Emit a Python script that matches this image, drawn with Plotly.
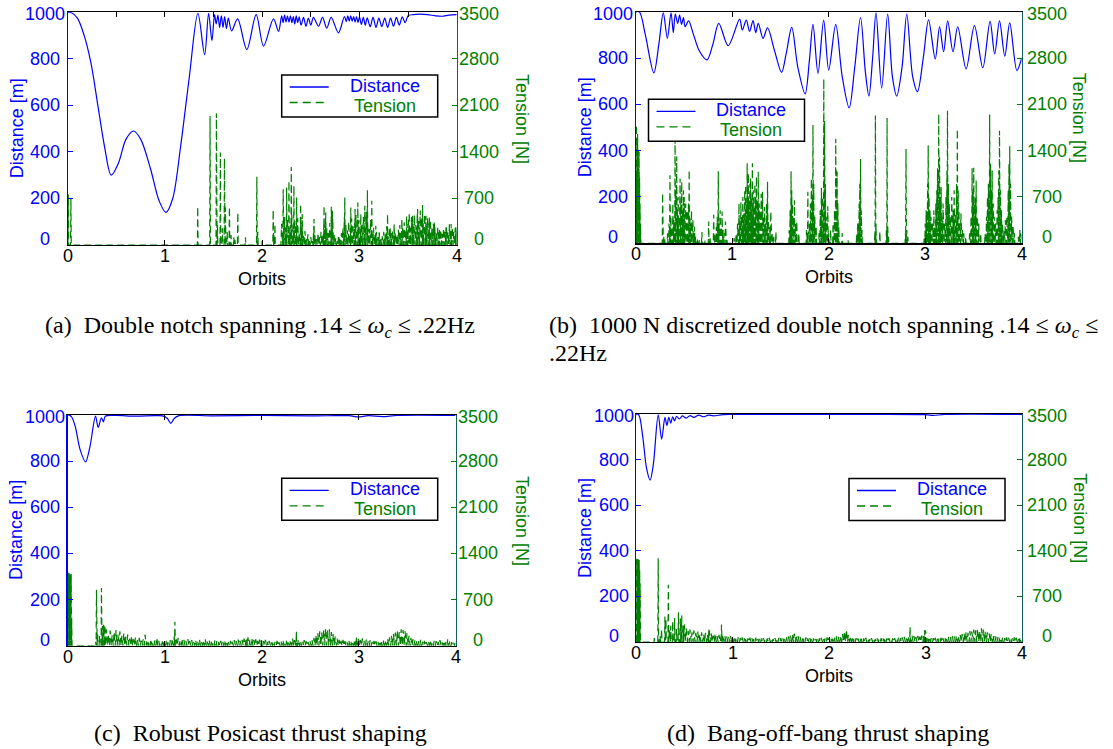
import plotly.graph_objects as go

# ---------------- data ----------------
ORBIT_TICKS = [0, 1, 2, 3, 4]
DIST_TICKS = [0, 200, 400, 600, 800, 1000]
TENSION_TICKS = [0, 700, 1400, 2100, 2800, 3500]
SERIES_NAMES = ["Distance", "Tension"]

# (a) Double notch
a_distance = [(0.00, 1000), (0.04, 998), (0.10, 975), (0.17, 900), (0.24, 780), (0.31, 600),
              (0.38, 420), (0.447, 300), (0.52, 350), (0.60, 455), (0.677, 490), (0.75, 455),
              (0.85, 330), (0.94, 190), (1.01, 140), (1.08, 200), (1.16, 420), (1.25, 720),
              (1.339, 995), (1.408, 818), (1.449, 995), (1.483, 878), (1.51, 990), (1.527, 950),
              (1.545, 988), (1.562, 935), (1.58, 985), (1.597, 935), (1.614, 982), (1.632, 930),
              (1.652, 975), (1.685, 920), (1.747, 972), (1.842, 840), (1.938, 990), (2.014, 855),
              (2.116, 972), (2.168, 918), (2.20, 985), (2.215, 955), (2.23, 988), (2.245, 958),
              (2.26, 985), (2.275, 958), (2.29, 985), (2.305, 955), (2.32, 982), (2.335, 950),
              (2.35, 985), (2.365, 955), (2.38, 980), (2.40, 945), (2.425, 978), (2.45, 940),
              (2.475, 975), (2.50, 945), (2.527, 978), (2.579, 940), (2.62, 978), (2.664, 932),
              (2.709, 978), (2.784, 912), (2.846, 982), (2.865, 960), (2.88, 985), (2.895, 962),
              (2.91, 985), (2.925, 962), (2.94, 982), (2.955, 958), (2.97, 982), (2.985, 955),
              (3.00, 980), (3.02, 948), (3.04, 978), (3.06, 945), (3.08, 976), (3.11, 938),
              (3.14, 978), (3.17, 935), (3.20, 975), (3.23, 938), (3.26, 975), (3.29, 935),
              (3.32, 975), (3.35, 940), (3.38, 978), (3.41, 945), (3.44, 980), (3.47, 955),
              (3.50, 985), (3.55, 990), (3.62, 992), (3.70, 990), (3.78, 985), (3.85, 983),
              (3.92, 988), (4.00, 990)]
a_spikes = [(0.006, 760), (0.033, 700), (1.337, 575), (1.464, 1940), (1.529, 1980), (1.540, 300),
            (1.570, 1390), (1.590, 250), (1.612, 1305), (1.622, 565), (1.640, 200), (1.663, 575),
            (1.680, 150), (1.708, 115), (1.720, 80), (1.749, 490), (1.828, 115), (1.945, 1025),
            (1.955, 200), (2.000, 65), (2.113, 530), (2.120, 150), (2.131, 315), (2.216, 840),
            (2.251, 865), (2.275, 965), (2.299, 1175), (2.326, 890), (2.354, 715), (2.395, 615),
            (2.412, 465), (2.533, 390), (2.636, 590), (2.653, 490), (2.711, 575), (2.722, 515),
            (2.790, 115), (2.849, 715), (2.911, 565), (2.955, 540), (2.983, 640), (3.014, 465),
            (3.055, 590), (3.082, 825), (3.127, 665), (3.168, 290), (3.203, 190), (3.289, 465),
            (3.316, 265), (3.357, 315), (3.436, 390), (3.485, 440), (3.512, 490), (3.546, 465),
            (3.598, 540), (3.649, 600), (3.684, 440), (3.718, 415), (3.770, 340), (3.821, 240),
            (3.890, 265), (3.942, 315), (3.993, 290)]
a_grass_x0 = 2.20
a_grass_dx = 0.015
a_grass_h = [320, 180, 420, 260, 380, 150, 300, 450, 220, 360,
             280, 400, 190, 330, 250, 140, 210, 90, 160, 70,
             120, 60, 280, 150, 90, 180, 120, 200, 150, 380,
             300, 250, 180, 330, 220, 400, 150, 100, 60, 140,
             90, 180, 260, 420, 300, 220, 350, 180, 400, 280,
             330, 450, 250, 380, 200, 310, 420, 260, 500, 300,
             240, 380, 180, 260, 150, 200, 120, 170, 90, 130,
             200, 160, 280, 130, 240, 180, 220, 120, 190, 150,
             230, 300, 180, 260, 340, 220, 310, 380, 260, 420,
             350, 450, 300, 480, 380, 520, 420, 350, 460, 300,
             400, 330, 380, 250, 320, 280, 200, 260, 180, 230,
             170, 250, 200, 280, 190, 310, 230, 270, 200, 260,
             220]

# (b) 1000 N discretized double notch
b_distance = [(0.000, 295), (0.004, 1000), (0.04, 998), (0.10, 900), (0.188, 736), (0.24, 860),
              (0.286, 995), (0.328, 885), (0.366, 995), (0.39, 910), (0.41, 990), (0.435, 950),
              (0.455, 985), (0.475, 945), (0.495, 975), (0.512, 935), (0.547, 960), (0.60, 900),
              (0.66, 830), (0.739, 792), (0.80, 860), (0.861, 950), (0.958, 853), (1.077, 968),
              (1.105, 921), (1.146, 964), (1.18, 915), (1.216, 962), (1.244, 910), (1.27, 950),
              (1.32, 885), (1.366, 930), (1.44, 830), (1.512, 738), (1.56, 820), (1.617, 932),
              (1.68, 760), (1.756, 645), (1.80, 790), (1.837, 945), (1.889, 734), (1.948, 964),
              (2.00, 748), (2.073, 945), (2.14, 720), (2.212, 585), (2.27, 760), (2.33, 975),
              (2.38, 740), (2.417, 636), (2.455, 800), (2.49, 995), (2.549, 670), (2.611, 990),
              (2.66, 720), (2.705, 636), (2.76, 760), (2.809, 990), (2.87, 720), (2.92, 655),
              (2.98, 800), (3.035, 965), (3.104, 796), (3.149, 935), (3.191, 827), (3.233, 960),
              (3.288, 827), (3.337, 935), (3.424, 753), (3.51, 940), (3.597, 758), (3.672, 958),
              (3.72, 818), (3.77, 960), (3.825, 808), (3.876, 952), (3.95, 746), (4.00, 800)]
b_spikes = [(0.004, 1000), (0.008, 1790), (0.012, 1500), (0.016, 1200), (0.020, 1650), (0.025, 1400),
            (0.030, 1410), (0.035, 1380), (0.040, 1000), (0.045, 600), (0.050, 300),
            (0.279, 760), (0.290, 100), (0.300, 60), (0.330, 150), (0.345, 300), (0.355, 1030),
            (0.365, 400), (0.375, 250), (0.385, 600), (0.395, 350), (0.408, 1660), (0.415, 800),
            (0.425, 1310), (0.432, 500), (0.440, 700), (0.448, 400), (0.455, 850), (0.460, 980),
            (0.468, 600), (0.477, 930), (0.485, 500), (0.495, 800), (0.503, 700), (0.510, 450),
            (0.518, 600), (0.525, 350), (0.533, 500), (0.540, 300), (0.548, 600), (0.554, 1110),
            (0.562, 400), (0.570, 300), (0.578, 500), (0.585, 250), (0.593, 350), (0.600, 150),
            (0.610, 250), (0.620, 100), (0.640, 80), (0.660, 50),
            (0.686, 170), (0.720, 50), (0.756, 330), (0.770, 100), (0.808, 430), (0.820, 150),
            (0.835, 250), (0.845, 400), (0.856, 1090), (0.865, 300), (0.875, 500), (0.885, 250),
            (0.895, 480), (0.905, 200), (0.915, 150), (0.930, 330), (0.945, 80),
            (1.020, 80), (1.040, 150), (1.055, 300), (1.070, 600), (1.080, 350), (1.090, 620),
            (1.100, 400), (1.110, 700), (1.120, 450), (1.130, 800), (1.139, 880), (1.148, 600),
            (1.155, 1210), (1.163, 700), (1.167, 1060), (1.175, 650), (1.183, 900), (1.190, 980),
            (1.200, 700), (1.209, 1210), (1.218, 800), (1.225, 600), (1.235, 900), (1.243, 700),
            (1.251, 1010), (1.260, 650), (1.270, 1080), (1.280, 600), (1.290, 500), (1.300, 750),
            (1.314, 780), (1.325, 400), (1.335, 550), (1.345, 300), (1.355, 600), (1.366, 930),
            (1.375, 350), (1.390, 250), (1.400, 480), (1.415, 150), (1.430, 100), (1.453, 170),
            (1.590, 200), (1.600, 500), (1.610, 1090), (1.617, 800), (1.625, 600), (1.635, 400),
            (1.645, 650), (1.655, 300), (1.669, 330), (1.690, 150),
            (1.770, 200), (1.784, 780), (1.800, 300), (1.810, 600), (1.820, 980), (1.830, 700),
            (1.837, 1790), (1.845, 900), (1.855, 400), (1.870, 250), (1.900, 150), (1.912, 500),
            (1.924, 840), (1.935, 700), (1.949, 2485), (1.958, 1850), (1.965, 900), (1.975, 400),
            (1.990, 560), (2.000, 150), (2.020, 200), (2.045, 300), (2.060, 500), (2.073, 1580),
            (2.080, 1100), (2.087, 1080), (2.095, 600), (2.105, 250), (2.140, 150), (2.200, 50),
            (2.290, 150), (2.300, 300), (2.306, 280), (2.315, 600), (2.322, 900), (2.330, 1275),
            (2.338, 500), (2.345, 200),
            (2.478, 150), (2.484, 1930), (2.490, 300), (2.530, 180),
            (2.598, 200), (2.605, 1895), (2.612, 250), (2.620, 100),
            (2.795, 150), (2.801, 1425), (2.810, 200), (2.820, 100),
            (2.990, 100), (3.000, 300), (3.010, 500), (3.017, 480), (3.025, 900), (3.031, 1480),
            (3.040, 700), (3.050, 500), (3.060, 400), (3.075, 300), (3.090, 500), (3.100, 250),
            (3.110, 600), (3.120, 800), (3.128, 1135), (3.140, 1955), (3.149, 1300), (3.157, 700),
            (3.165, 850), (3.175, 400), (3.185, 600), (3.200, 300), (3.215, 700), (3.225, 1100),
            (3.231, 2005), (3.240, 900), (3.250, 600), (3.260, 400), (3.275, 700), (3.290, 500),
            (3.300, 800), (3.310, 450), (3.325, 900), (3.333, 1725), (3.342, 800), (3.350, 500),
            (3.360, 300), (3.370, 450), (3.385, 200), (3.400, 150), (3.420, 100),
            (3.460, 150), (3.475, 400), (3.486, 1136), (3.495, 800), (3.503, 1140), (3.512, 600),
            (3.520, 700), (3.528, 950), (3.540, 400), (3.555, 300), (3.575, 150),
            (3.620, 150), (3.635, 400), (3.645, 700), (3.655, 900), (3.668, 1945), (3.677, 1200),
            (3.685, 800), (3.694, 1100), (3.705, 600), (3.715, 400), (3.730, 300), (3.745, 500),
            (3.755, 700), (3.762, 1100), (3.770, 1700), (3.780, 800), (3.790, 500), (3.800, 300),
            (3.815, 200), (3.830, 350), (3.845, 400), (3.860, 800), (3.868, 1200), (3.876, 1465),
            (3.885, 900), (3.895, 400), (3.910, 250), (3.925, 150),
            (3.965, 100), (3.980, 200), (3.990, 150)]

# (c) Robust Posicast
c_distance = [(0.000, 60), (0.004, 1000), (0.04, 993), (0.08, 950), (0.13, 850), (0.186, 797),
              (0.23, 860), (0.289, 995), (0.316, 946), (0.35, 988), (0.37, 970), (0.39, 995),
              (0.50, 998), (0.70, 995), (0.90, 997), (0.98, 996), (1.03, 985), (1.065, 964),
              (1.10, 985), (1.15, 997), (1.50, 996), (2.00, 998), (2.50, 996), (2.90, 997),
              (3.00, 992), (3.10, 997), (3.25, 993), (3.40, 998), (4.00, 998)]
c_spikes = [(0.003, 1100), (0.008, 1110), (0.013, 1050), (0.018, 1100), (0.023, 1080), (0.028, 1110),
            (0.033, 1000), (0.038, 1090), (0.043, 420), (0.290, 60), (0.299, 850), (0.310, 200),
            (0.330, 150), (0.350, 875), (0.360, 300), (0.372, 320), (0.385, 315), (1.107, 366),
            (1.850, 120), (2.360, 224), (2.980, 110)]
c_grass_x0 = 0.40
c_grass_dx = 0.02
c_grass_h = [250, 180, 230, 160, 210, 240, 170, 220, 150, 190,
             140, 170, 110, 150, 100, 130, 90, 120, 80, 100,
             170, 90, 70, 100, 60, 85, 120, 75, 55, 90,
             70, 95, 60, 85, 110, 140, 100, 120, 85, 105,
             90, 75, 100, 70, 85, 60, 90, 75, 95, 65,
             85, 100, 65, 90, 75, 60, 85, 70, 55, 75,
             60, 85, 70, 55, 75, 60, 85, 70, 95, 75,
             90, 110, 85, 130, 95, 115, 90, 100, 75, 95,
             85, 70, 90, 60, 75, 55, 70, 60, 75, 55,
             70, 85, 60, 95, 75, 90, 110, 85, 130, 95,
             75, 60, 85, 70, 55, 75, 90, 120, 160, 190,
             220, 200, 240, 260, 230, 250, 210, 180, 140, 110,
             90, 75, 90, 70, 60, 85, 75, 70, 95, 130,
             105, 85, 115, 75, 95, 70, 85, 60, 75, 70,
             60, 75, 70, 90, 85, 110, 130, 150, 180, 200,
             230, 210, 250, 240, 220, 190, 150, 120, 100, 90,
             80, 70, 90, 60, 75, 55, 70, 85, 60, 75,
             70, 60, 85, 55, 75, 60, 100, 70, 55, 45,
             40]

# (d) Bang-off-bang
d_distance = [(0.000, 100), (0.004, 1000), (0.03, 995), (0.07, 900), (0.11, 760), (0.146, 710),
              (0.18, 780), (0.23, 996), (0.266, 890), (0.30, 985), (0.32, 950), (0.34, 985),
              (0.36, 960), (0.38, 988), (0.40, 970), (0.42, 990), (0.45, 978), (0.48, 992),
              (0.52, 982), (0.56, 993), (0.60, 985), (0.65, 995), (0.70, 988), (0.75, 995),
              (0.80, 992), (0.90, 997), (1.00, 998), (2.00, 998), (3.00, 997), (3.08, 994),
              (3.20, 998), (4.00, 998)]
d_spikes = [(0.003, 1270), (0.008, 1250), (0.013, 1280), (0.018, 1200), (0.023, 1270), (0.028, 1230),
            (0.033, 1260), (0.038, 1100), (0.043, 900), (0.190, 60), (0.230, 1285), (0.250, 100),
            (0.265, 200), (0.300, 390), (0.310, 350), (0.335, 880), (0.345, 200), (0.360, 250),
            (0.380, 320), (0.400, 370), (0.420, 200), (0.440, 456), (0.460, 360), (0.474, 405),
            (0.490, 250), (0.755, 210), (0.886, 267), (2.840, 236), (2.990, 180)]
d_grass_x0 = 0.50
d_grass_dx = 0.02
d_grass_h = [270, 210, 170, 190, 150, 180, 140, 160, 120, 150,
             120, 140, 110, 170, 130, 100, 130, 90, 110, 80,
             110, 95, 85, 75, 90, 70, 80, 65, 75, 60,
             70, 60, 65, 55, 65, 60, 50, 65, 45, 60,
             55, 60, 45, 55, 65, 55, 45, 60, 55, 65,
             60, 55, 65, 70, 85, 100, 120, 130, 110, 90,
             80, 65, 60, 70, 55, 65, 60, 55, 45, 60,
             55, 65, 60, 55, 70, 65, 60, 75, 70, 90,
             85, 100, 120, 160, 190, 110, 90, 80, 65, 60,
             55, 65, 60, 55, 65, 55, 45, 60, 55, 45,
             55, 45, 60, 55, 65, 55, 60, 45, 55, 60,
             55, 65, 60, 70, 80, 65, 90, 85, 100, 90,
             80, 95, 85, 100, 90, 180, 80, 75, 65, 60,
             65, 60, 55, 65, 60, 70, 65, 80, 75, 90,
             85, 100, 95, 110, 120, 130, 150, 140, 170, 160,
             190, 180, 200, 170, 210, 190, 160, 150, 130, 120,
             100, 90, 80, 70, 65, 75, 60, 70, 65, 60,
             55, 70, 65, 60, 75]

CAPTIONS = {
    "a": "(a)\u00a0 Double notch spanning .14\u00a0≤\u00a0<i>ω<sub>c</sub></i>\u00a0≤\u00a0.22Hz",
    "b1": "(b)\u00a0 1000 N discretized double notch spanning .14\u00a0≤\u00a0<i>ω<sub>c</sub></i>\u00a0≤",
    "b2": ".22Hz",
    "c": "(c)\u00a0 Robust Posicast thrust shaping",
    "d": "(d)\u00a0 Bang-off-bang thrust shaping",
}

# ---------------- styling / layout ----------------
W, H = 1113, 749
OFF = 0          # body margin is removed by the post script below
BLUE = "#0000ff"
GREEN = "#008000"
RIGHT_LINE = "#146060"
SANS = "Liberation Sans, Arial, sans-serif"
SERIF = "Liberation Serif, Times New Roman, serif"
FS = 18
SPIKE_HALF = 0.004
GRASS_HALF = 0.008

# panel boxes in window pixels: (left, right), (top, bottom)
BOX = {
    "a": ((67.7, 456.7), (12.3, 245.0)),
    "b": ((635.7, 1021.7), (11.7, 243.3)),
    "c": ((67.5, 455.5), (415.0, 645.8)),
    "d": ((636.0, 1022.0), (414.0, 642.0)),
}
LEGEND_TL = {"a": (281.7, 75.0), "b": (648.5, 99.3), "c": (281.7, 478.3), "d": (849.0, 478.5)}
LEG_W, LEG_H = 156, 42
AXES = {"a": ("x", "y", "y2"), "b": ("x2", "y3", "y4"), "c": ("x3", "y5", "y6"), "d": ("x4", "y7", "y8")}
TENSION_TITLE_OFF = {"a": 66, "b": 58, "c": 66, "d": 58}


def fx(p):
    return (p - OFF) / W


def fy(p):
    return 1 - (p - OFF) / H


def tension_path(spikes, gx0=None, gdx=None, gh=()):
    pts = [(x, h, SPIKE_HALF) for x, h in spikes]
    pts += [(gx0 + i * gdx, h, GRASS_HALF) for i, h in enumerate(gh)]
    pts.sort()
    xs, ys = [0.0], [0.0]
    for x, h, w in pts:
        xs += [x - w, x, x + w]
        ys += [0, h, 0]
    xs.append(4.0)
    ys.append(0.0)
    return xs, ys


data = {
    "a": (a_distance, tension_path(a_spikes, a_grass_x0, a_grass_dx, a_grass_h)),
    "b": (b_distance, tension_path(b_spikes)),
    "c": (c_distance, tension_path(c_spikes, c_grass_x0, c_grass_dx, c_grass_h)),
    "d": (d_distance, tension_path(d_spikes, d_grass_x0, d_grass_dx, d_grass_h)),
}

fig = go.Figure()
layout = dict(width=W, height=H, margin=dict(l=0, r=0, t=0, b=0),
              paper_bgcolor="white", plot_bgcolor="white", showlegend=False,
              font=dict(family=SANS, size=FS), hovermode=False)
annotations = []
shapes = []

for key in ["a", "b", "c", "d"]:
    (xl, xr), (yt, yb) = BOX[key]
    xa, yl, yr = AXES[key]
    dist, (tx, ty) = data[key]
    tension_xaxis = "x5" if key == "a" else xa

    fig.add_trace(go.Scatter(
        x=[p[0] for p in dist], y=[p[1] for p in dist], mode="lines",
        line=dict(color=BLUE, width=1.2, shape="spline", smoothing=0.9),
        name=SERIES_NAMES[0], xaxis=xa, yaxis=yl, hoverinfo="skip"))
    fig.add_trace(go.Scatter(
        x=tx, y=ty, mode="lines",
        line=dict(color=GREEN, width=1.2, dash="7px,4px"),
        name=SERIES_NAMES[1], xaxis=tension_xaxis, yaxis=yr, hoverinfo="skip"))

    xname = "xaxis" + xa[1:]
    ylname = "yaxis" + yl[1:]
    yrname = "yaxis" + yr[1:]
    layout[xname] = dict(
        domain=[fx(xl), fx(xr)], anchor=yl, range=[0, 4], tickvals=ORBIT_TICKS,
        ticks="inside", ticklen=5, tickcolor="black", showline=True, linecolor="black",
        linewidth=1.2, mirror=(True if key == "a" else "ticks"), showgrid=False,
        zeroline=False, showticklabels=False, fixedrange=True)
    layout[ylname] = dict(
        domain=[fy(yb), fy(yt)], anchor=xa, range=[0, 1000], tickvals=DIST_TICKS,
        ticks="inside", ticklen=5, tickcolor=BLUE, showline=True, linecolor=BLUE,
        linewidth=1.2, showgrid=False, zeroline=False, showticklabels=False, fixedrange=True)
    layout[yrname] = dict(
        overlaying=yl, side="right", anchor=xa, range=[0, 3500], tickvals=TENSION_TICKS,
        ticks="inside", ticklen=5, tickcolor=GREEN, showline=True, linecolor=RIGHT_LINE,
        linewidth=1.2, showgrid=False, zeroline=False, showticklabels=False, fixedrange=True)

    # tick labels (centred, as in the reference)
    for v in ORBIT_TICKS:
        annotations.append(dict(x=v, xref=xa, y=fy(yb + 11), yref="paper", text=str(v),
                                showarrow=False, xanchor="center", yanchor="middle",
                                font=dict(family=SANS, size=FS, color="black")))
    for v in DIST_TICKS:
        shift = 6 if v == 0 else (-2 if v == 1000 else 0)
        annotations.append(dict(x=fx(xl - 22.5), xref="paper", y=v, yref=yl, text=str(v),
                                showarrow=False, xanchor="center", yanchor="middle", yshift=shift,
                                font=dict(family=SANS, size=FS, color=BLUE)))
    roff = 22 if key in ("a", "c") else 25
    for v in TENSION_TICKS:
        shift = 6 if v == 0 else (-2 if v == 3500 else 0)
        annotations.append(dict(x=fx(xr + roff), xref="paper", y=v, yref=yr, text=str(v),
                                showarrow=False, xanchor="center", yanchor="middle", yshift=shift,
                                font=dict(family=SANS, size=FS, color=GREEN)))
    # axis titles
    annotations.append(dict(x=fx(xl - 51), y=fy((yt + yb) / 2), xref="paper", yref="paper",
                            text="Distance [m]", textangle=-90, showarrow=False,
                            xanchor="center", yanchor="middle",
                            font=dict(family=SANS, size=FS, color=BLUE)))
    annotations.append(dict(x=fx(xr + TENSION_TITLE_OFF[key]), y=fy(yt + 0.457 * (yb - yt)),
                            xref="paper", yref="paper",
                            text="Tension [N]", textangle=90, showarrow=False,
                            xanchor="center", yanchor="middle",
                            font=dict(family=SANS, size=FS, color=GREEN)))
    annotations.append(dict(x=fx((xl + xr) / 2), y=fy(yb + 34), xref="paper", yref="paper",
                            text="Orbits", showarrow=False, xanchor="center", yanchor="middle",
                            font=dict(family=SANS, size=FS, color="black")))

    # legend box (MATLAB style)
    lx, ly = LEGEND_TL[key]
    shapes.append(dict(type="rect", xref="paper", yref="paper",
                       x0=fx(lx), x1=fx(lx + LEG_W), y0=fy(ly + LEG_H), y1=fy(ly),
                       line=dict(color="black", width=1.5), fillcolor="white", layer="above"))
    shapes.append(dict(type="line", xref="paper", yref="paper",
                       x0=fx(lx + 8), x1=fx(lx + 47), y0=fy(ly + 12), y1=fy(ly + 12),
                       line=dict(color=BLUE, width=1.3), layer="above"))
    shapes.append(dict(type="line", xref="paper", yref="paper",
                       x0=fx(lx + 8), x1=fx(lx + 47), y0=fy(ly + 27.5), y1=fy(ly + 27.5),
                       line=dict(color=GREEN, width=1.3, dash="8px,5px"), layer="above"))
    annotations.append(dict(x=fx(lx + 103), y=fy(ly + 10.6), xref="paper", yref="paper",
                            text=SERIES_NAMES[0], showarrow=False, xanchor="center", yanchor="middle",
                            font=dict(family=SANS, size=FS, color=BLUE)))
    annotations.append(dict(x=fx(lx + 103), y=fy(ly + 30.8), xref="paper", yref="paper",
                            text=SERIES_NAMES[1], showarrow=False, xanchor="center", yanchor="middle",
                            font=dict(family=SANS, size=FS, color=GREEN)))

# extra half-orbit ticks on the top edge of panel (a)
layout["xaxis5"] = dict(overlaying="x", anchor="y", side="top", range=[0, 4], dtick=0.5,
                        ticks="inside", ticklen=5, tickcolor="black", showticklabels=False,
                        showline=False, showgrid=False, zeroline=False, fixedrange=True)

# captions
CAP_FONT = dict(family=SERIF, size=24, color="black")
annotations.append(dict(x=fx(260), y=fy(327), xref="paper", yref="paper", text=CAPTIONS["a"],
                        showarrow=False, xanchor="center", yanchor="middle", font=CAP_FONT))
annotations.append(dict(x=fx(547), y=fy(327), xref="paper", yref="paper", text=CAPTIONS["b1"],
                        showarrow=False, xanchor="left", yanchor="middle", font=CAP_FONT))
annotations.append(dict(x=fx(547), y=fy(353), xref="paper", yref="paper", text=CAPTIONS["b2"],
                        showarrow=False, xanchor="left", yanchor="middle", font=CAP_FONT))
annotations.append(dict(x=fx(260), y=fy(733), xref="paper", yref="paper", text=CAPTIONS["c"],
                        showarrow=False, xanchor="center", yanchor="middle", font=CAP_FONT))
annotations.append(dict(x=fx(828), y=fy(733), xref="paper", yref="paper", text=CAPTIONS["d"],
                        showarrow=False, xanchor="center", yanchor="middle", font=CAP_FONT))

layout["annotations"] = annotations
layout["shapes"] = shapes
fig.update_layout(**layout)
fig.write_html("out.html", config={"displayModeBar": False, "staticPlot": True},
               post_script="document.body.style.margin='0px';")
